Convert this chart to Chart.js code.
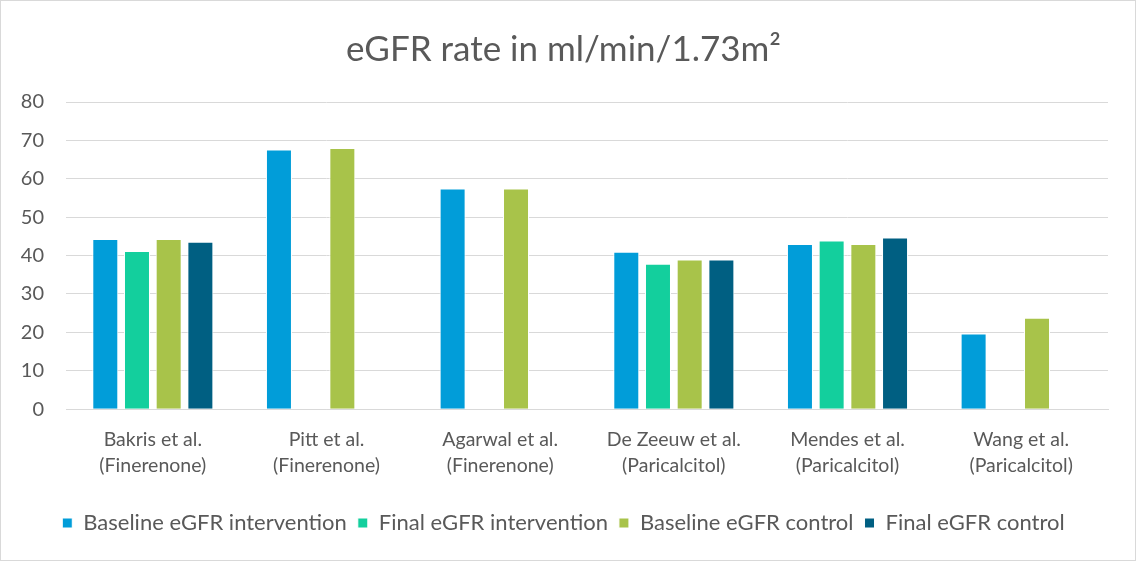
<!DOCTYPE html>
<html>
<head>
<meta charset="utf-8">
<script src="https://cdn.jsdelivr.net/npm/chart.js@4"></script>
<style>
  html,body{margin:0;padding:0;background:#fff}
  #wrap{position:relative;width:1134px;height:559px;border:1px solid #d9d9d9}
</style>
</head>
<body>
<div id="wrap"><canvas id="chart"></canvas></div>
<script>
const STUDIES = [
  ['Bakris et al.','(Finerenone)'],
  ['Pitt et al.','(Finerenone)'],
  ['Agarwal et al.','(Finerenone)'],
  ['De Zeeuw et al.','(Paricalcitol)'],
  ['Mendes et al.','(Paricalcitol)'],
  ['Wang et al.','(Paricalcitol)']
];
const baselineIntervention = [44.3, 67.6, 57.5, 41.0, 43.0, 19.7];
const finalIntervention    = [41.2, null, null, 37.9, 43.9, null];
const baselineControl      = [44.3, 68.0, 57.5, 39.0, 43.0, 23.8];
const finalControl         = [43.6, null, null, 39.0, 44.7, null];
const Y_TICKS = [0,10,20,30,40,50,60,70,80];

const FONT = 'Lato, "Open Sans", sans-serif';
const TXT = '#595959';

function ds(label,data,color){
  return {label,data,backgroundColor:color,borderColor:'#ffffff',borderWidth:1,barPercentage:0.82,categoryPercentage:0.73};
}

new Chart(document.getElementById('chart'),{
  type:'bar',
  data:{
    labels:STUDIES,
    datasets:[
      ds('Baseline eGFR intervention',baselineIntervention,'#019dd9'),
      ds('Final eGFR intervention',finalIntervention,'#13cf9d'),
      ds('Baseline eGFR control',baselineControl,'#a8c34a'),
      ds('Final eGFR control',finalControl,'#005f82')
    ]
  },
  options:{
    responsive:true,maintainAspectRatio:false,animation:false,
    layout:{padding:{left:18,right:27,top:10,bottom:16}},
    scales:{
      y:{
        min:0,max:80,
        afterBuildTicks:(ax)=>{ax.ticks=Y_TICKS.map(v=>({value:v}))},
        afterFit:(ax)=>{ax.width=47},
        grid:{color:'#d9d9d9',lineWidth:1,drawTicks:false},
        border:{display:false},
        ticks:{color:TXT,font:{family:FONT,size:20},padding:22}
      },
      x:{
        afterFit:(ax)=>{ax.height+=12},
        grid:{display:false},
        border:{display:true,color:'#d9d9d9'},
        ticks:{color:TXT,font:{family:FONT,size:19.5,lineHeight:1.33},padding:10,maxRotation:0}
      }
    },
    plugins:{
      title:{display:true,text:'eGFR rate in ml/min/1.73m²',color:TXT,font:{family:FONT,size:35,weight:'normal'},padding:{top:18,bottom:31}},
      legend:{position:'bottom',labels:{color:TXT,font:{family:FONT,size:22},boxWidth:10,boxHeight:10,padding:11}},
      tooltip:{enabled:false}
    }
  }
});
</script>
</body>
</html>
